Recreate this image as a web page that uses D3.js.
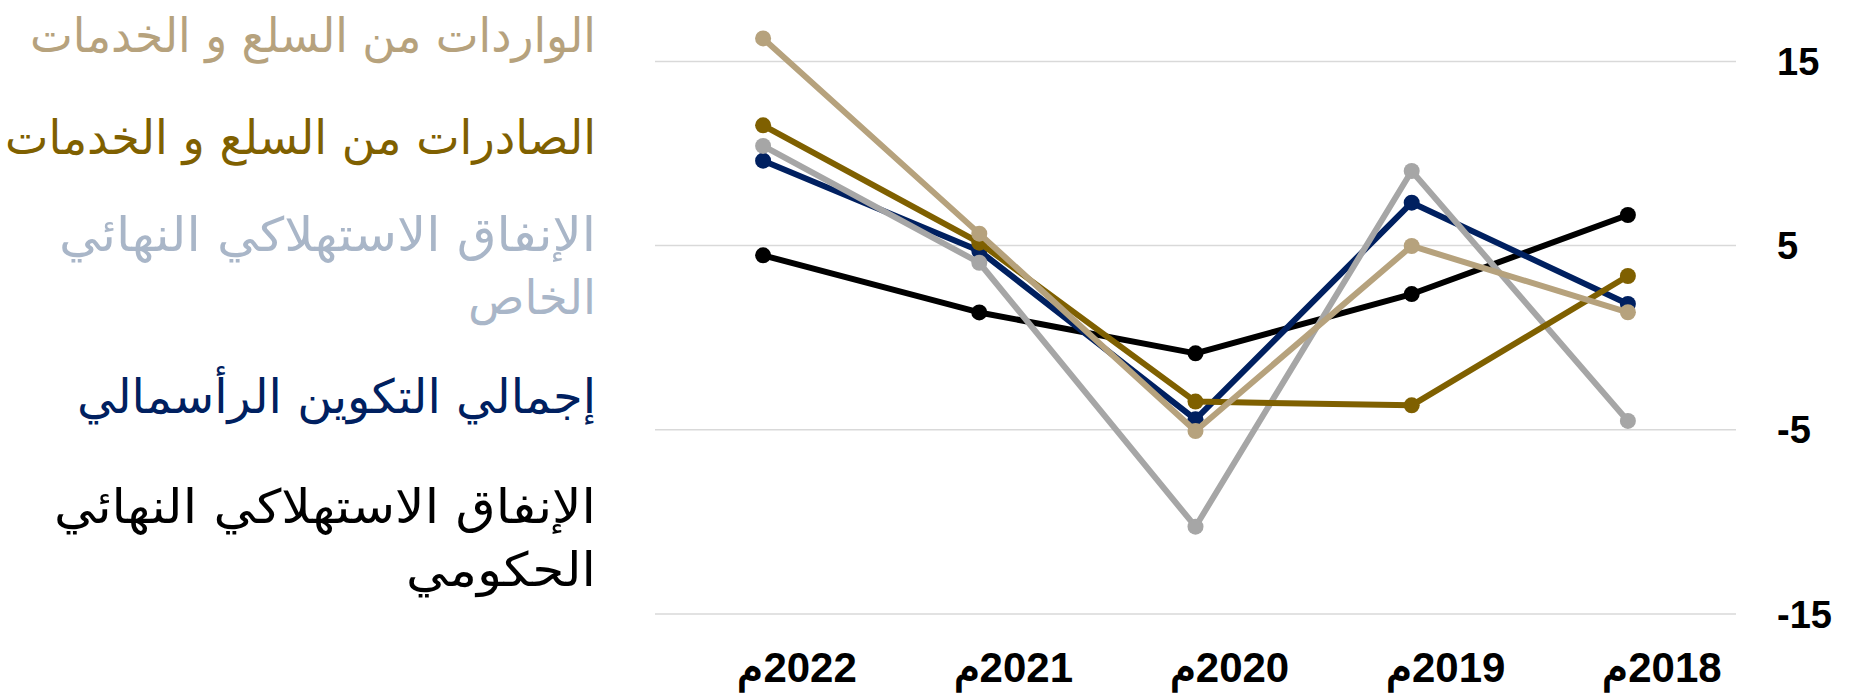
<!DOCTYPE html>
<html>
<head>
<meta charset="utf-8">
<script src="https://cdn.jsdelivr.net/npm/d3@7"></script>
<style>
  body { margin: 0; background: #fff; }
  svg { display: block; }
</style>
</head>
<body>
<svg width="1850" height="695"></svg>
<script>
//  Data (percent change)
const years = ['2022م', '2021م', '2020م', '2019م', '2018م'];
const yTicks = [-15, -5, 5, 15];

const imports     = [16.25, 5.65, -5.07, 4.98, 1.38];
const exportsGS   = [11.53, 5.16, -3.47, -3.67, 3.35];
const privateCons = [10.41, 4.07, -10.26, 9.05, -4.52];
const capital     = [9.61, 4.72, -4.43, 7.33, 1.83];
const govCons     = [4.47, 1.37, -0.85, 2.37, 6.66];

const legendLines = [
    ['الواردات من السلع و الخدمات'],
    ['الصادرات من السلع و الخدمات'],
    ['الإنفاق الاستهلاكي النهائي', 'الخاص'],
    ['إجمالي التكوين الرأسمالي'],
    ['الإنفاق الاستهلاكي النهائي', 'الحكومي']
];

//  Series, bottom to top in drawing order
const series = [
    { name: 'gov',     values: govCons,     line: '#000000', text: '#000000', legend: 4 },
    { name: 'capital', values: capital,     line: '#002060', text: '#002060', legend: 3 },
    { name: 'private', values: privateCons, line: '#a6a6a6', text: '#a9b6c8', legend: 2 },
    { name: 'exports', values: exportsGS,   line: '#7f6000', text: '#7f6000', legend: 1 },
    { name: 'imports', values: imports,     line: '#b6a27d', text: '#b6a27d', legend: 0 }
];

//  Legend layout: right edge, baselines and widths of each text line
const legendRight = 596;
const legendLayout = [
    { base: [52],       width: [566] },
    { base: [154],      width: [591] },
    { base: [251, 314], width: [537, 128] },
    { base: [413],      width: [519] },
    { base: [523, 586], width: [542, 190] }
];

const svg = d3.select('svg');

const x = d3.scaleBand().domain(years).range([655, 1736]);
const y = d3.scaleLinear().domain([-15, 15]).range([614, 61.4]);
const cx = d => x(d) + x.bandwidth() / 2;

//============ GRID + Y LABELS =========================
const grid = svg.append('g').attr('id', 'grid');
grid.selectAll('line')
    .data(yTicks)
    .join('line')
    .attr('x1', 655)
    .attr('x2', 1736)
    .attr('y1', d => y(d))
    .attr('y2', d => y(d))
    .attr('stroke', '#d9d9d9')
    .attr('stroke-width', 1.5);

grid.selectAll('text')
    .data(yTicks)
    .join('text')
    .attr('x', 1777)
    .attr('y', d => y(d))
    .attr('dy', '0.36em')
    .attr('font-family', 'Liberation Sans, Arial, sans-serif')
    .attr('font-weight', 'bold')
    .attr('font-size', 38)
    .attr('fill', '#000')
    .text(d => d);

//============ X LABELS =========================
svg.append('g').attr('id', 'x_labels')
    .selectAll('text')
    .data(years)
    .join('text')
    .attr('x', d => cx(d) + 34)
    .attr('y', 682)
    .attr('direction', 'rtl')
    .attr('text-anchor', 'middle')
    .attr('font-family', 'Liberation Sans, Arial, sans-serif')
    .attr('font-weight', 'bold')
    .attr('font-size', 42)
    .attr('fill', '#000')
    .text(d => d);

//============ LINES + MARKERS =========================
const lineGen = d3.line()
    .x((d, i) => cx(years[i]))
    .y(d => y(d));

const lines = svg.append('g').attr('id', 'lines');
series.forEach(s => {
    const g = lines.append('g').attr('class', s.name);
    g.append('path')
        .attr('d', lineGen(s.values))
        .attr('fill', 'none')
        .attr('stroke', s.line)
        .attr('stroke-width', 6)
        .attr('stroke-linejoin', 'round');
    g.selectAll('circle')
        .data(s.values)
        .join('circle')
        .attr('cx', (d, i) => cx(years[i]))
        .attr('cy', d => y(d))
        .attr('r', 8)
        .attr('fill', s.line);
});

//============ LEGEND =========================
const legend = svg.append('g').attr('id', 'legend');
series.forEach(s => {
    const lay = legendLayout[s.legend];
    legendLines[s.legend].forEach((txt, j) => {
        legend.append('text')
            .attr('x', legendRight - lay.width[j])
            .attr('y', lay.base[j])
            .attr('textLength', lay.width[j])
            .attr('lengthAdjust', 'spacingAndGlyphs')
            .attr('font-family', 'DejaVu Sans, sans-serif')
            .attr('font-size', 47)
            .attr('fill', s.text)
            .text(txt);
    });
});
</script>
</body>
</html>
